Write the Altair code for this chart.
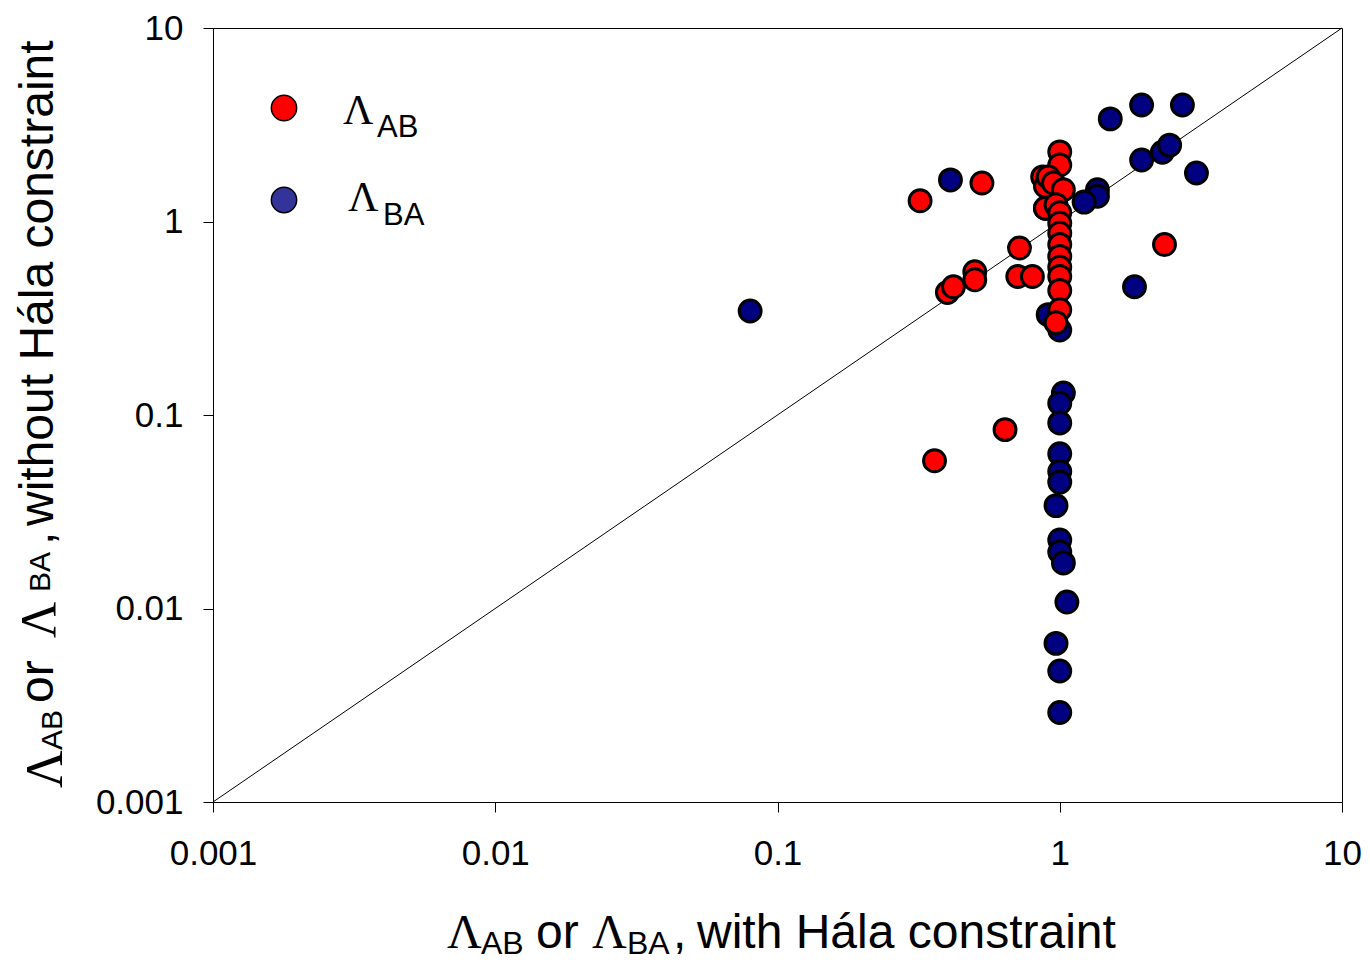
import altair as alt
import pandas as pd

# ---- data ----
red_x = [0.32, 0.53, 0.72, 0.40, 0.42, 0.50, 0.50, 0.71, 0.80, 2.35, 0.64, 0.36,
         0.87, 0.89, 0.89,
         1.0, 1.0, 0.91, 0.95, 1.03, 0.97, 1.0, 1.0, 1.0, 1.0, 1.0, 1.0, 1.0, 1.0, 1.0, 0.97]
red_y = [1.28, 1.58, 0.73, 0.43, 0.46, 0.55, 0.50, 0.52, 0.52, 0.76, 0.084, 0.058,
         1.70, 1.52, 1.17,
         2.29, 1.96, 1.70, 1.58, 1.46, 1.22, 1.11, 0.98, 0.87, 0.76, 0.66, 0.58, 0.52, 0.44, 0.35, 0.30]

blue_x = [0.080, 0.41, 1.51, 1.95, 2.72, 1.95, 2.31, 2.45, 3.05, 1.36, 1.36, 1.22, 1.84,
          0.89, 0.91, 1.0,
          1.03, 1.0, 1.0, 1.0, 1.0, 1.0, 0.97, 1.0, 1.0, 1.03, 1.06, 0.97, 1.0, 1.0]
blue_y = [0.345, 1.64, 3.39, 4.0, 4.0, 2.08, 2.28, 2.48, 1.78, 1.46, 1.35, 1.26, 0.46,
          1.17, 0.33, 0.275,
          0.13, 0.115, 0.091, 0.063, 0.051, 0.045, 0.034, 0.0226, 0.0196, 0.0172, 0.0108,
          0.0066, 0.00475, 0.0029]

diag = [0.001, 10]
tick_values = [0.001, 0.01, 0.1, 1, 10]

red_df = pd.DataFrame({"x": red_x, "y": red_y})
blue_df = pd.DataFrame({"x": blue_x, "y": blue_y})
diag_df = pd.DataFrame({"x": diag, "y": diag})

SANS = "Liberation Sans"
SERIF = "Liberation Serif"

xscale = alt.Scale(type="log", domain=[0.001, 10], nice=False)
yscale = alt.Scale(type="log", domain=[0.001, 10], nice=False)

xaxis = alt.Axis(values=tick_values, format="~g", title=None, grid=False,
                 labelFlush=False, labelOverlap=False, labelBound=False,
                 tickSize=10, tickColor="black", domainColor="black",
                 labelFont=SANS, labelFontSize=35, labelColor="black",
                 labelPadding=24)
yaxis = alt.Axis(values=tick_values, format="~g", title=None, grid=False,
                 labelFlush=False, labelOverlap=False, labelBound=False,
                 tickSize=10, tickColor="black", domainColor="black",
                 labelFont=SANS, labelFontSize=35, labelColor="black",
                 labelPadding=20)

line = alt.Chart(diag_df).mark_line(color="black", strokeWidth=1).encode(
    x=alt.X("x:Q", scale=xscale, axis=xaxis),
    y=alt.Y("y:Q", scale=yscale, axis=yaxis),
)

blue = alt.Chart(blue_df).mark_circle(size=480, fill="#000080", stroke="black",
                                      strokeWidth=3, opacity=1).encode(
    x=alt.X("x:Q", scale=xscale), y=alt.Y("y:Q", scale=yscale))
red = alt.Chart(red_df).mark_circle(size=480, fill="#FF0000", stroke="black",
                                    strokeWidth=3, opacity=1).encode(
    x=alt.X("x:Q", scale=xscale), y=alt.Y("y:Q", scale=yscale))

OX, OY = 213, 28  # plot origin on the page


def txt(s, px, py, size, font=SANS, angle=0):
    return alt.Chart(alt.Data(values=[{"t": s}])).mark_text(
        text=s, font=font, fontSize=size, align="left", baseline="alphabetic",
        angle=angle, color="black").encode(x=alt.value(px - OX), y=alt.value(py - OY))


def legend_dot(color, px, py):
    return alt.Chart(alt.Data(values=[{"t": 1}])).mark_circle(
        size=640, fill=color, stroke="black", strokeWidth=1.5, opacity=1).encode(
        x=alt.value(px - OX), y=alt.value(py - OY))


layers = [line, blue, red,
          legend_dot("#FF0000", 284, 108),
          legend_dot("#333399", 284, 200),
          txt("Λ", 343, 124, 42, SERIF), txt("AB", 377, 137, 31),
          txt("Λ", 348, 211, 42, SERIF), txt("BA", 383, 225, 31),
          # x title
          txt("Λ", 447, 948, 48, SERIF), txt("AB", 481, 954, 32),
          txt("or", 536, 948, 48),
          txt("Λ", 592, 948, 48, SERIF), txt("BA", 627, 954, 32),
          txt(",", 673, 948, 48),
          txt("with Hála constraint", 697, 948, 48),
          # y title (rotated)
          txt("Λ", 62, 788, 52, SERIF, 270), txt("AB", 62, 750, 30, angle=270),
          txt("or", 53, 703, 48, angle=270),
          txt("Λ", 55, 638, 50, SERIF, 270), txt("BA", 50, 592, 30, angle=270),
          txt(",", 53, 545, 48, angle=270),
          txt("without Hála constraint", 53, 526, 48, angle=270),
          ]

chart = alt.layer(*layers).properties(
    width=1129, height=774,
    autosize=alt.AutoSizeParams(type="none"),
    padding={"left": 205, "top": 20, "right": 20, "bottom": 159},
    background="white",
).configure_view(stroke="black", strokeWidth=1)

chart.save("out.html", embed_options={"renderer": "svg", "actions": False})
